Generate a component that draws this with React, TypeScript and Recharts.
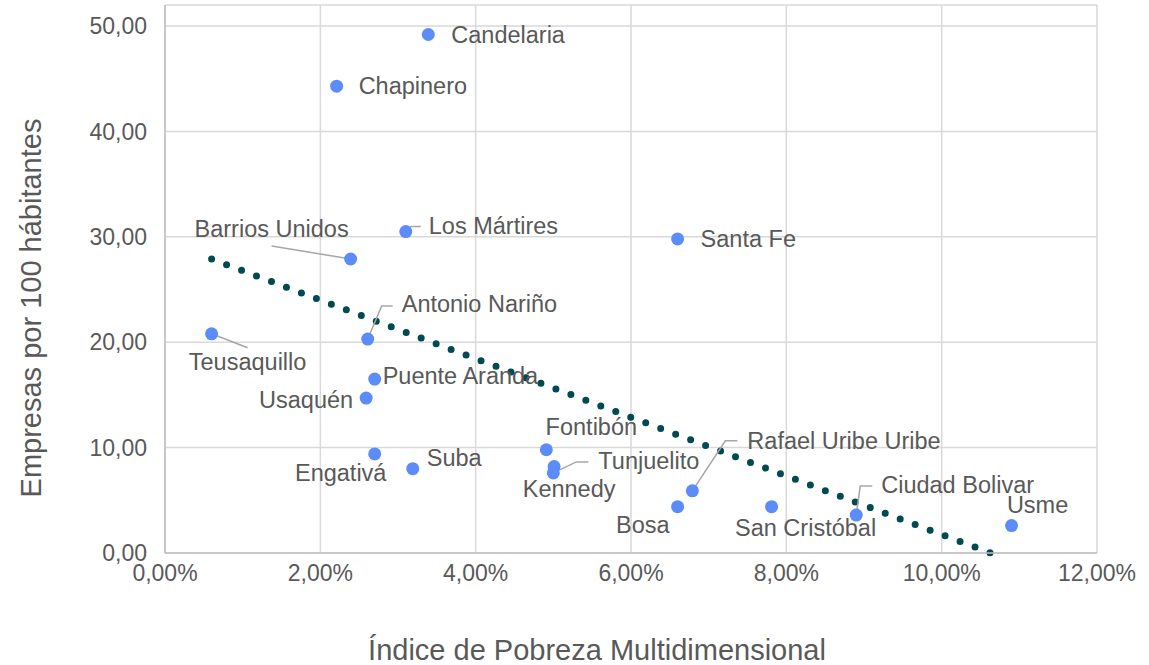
import React from "react";
import { ScatterChart, Scatter, XAxis, YAxis, CartesianGrid, ReferenceLine } from "recharts";

const localidades = [
  "Candelaria", "Chapinero", "Barrios Unidos", "Los Mártires", "Santa Fe",
  "Antonio Nariño", "Teusaquillo", "Puente Aranda", "Usaquén", "Fontibón",
  "Engativá", "Suba", "Kennedy", "Tunjuelito", "Rafael Uribe Uribe",
  "Bosa", "San Cristóbal", "Ciudad Bolivar", "Usme",
];
// Índice de Pobreza Multidimensional (%)
const ipm = [3.39, 2.21, 2.39, 3.1, 6.6, 2.61, 0.6, 2.7, 2.59, 4.91, 2.7, 3.19, 5.01, 5.0, 6.79, 6.6, 7.81, 8.9, 10.9];
// Empresas por 100 habitantes
const empresas = [49.2, 44.3, 27.9, 30.5, 29.8, 20.3, 20.8, 16.5, 14.7, 9.8, 9.4, 8.0, 8.2, 7.6, 5.9, 4.4, 4.4, 3.6, 2.6];
const trendX = [0.6, 10.63];
const trendY = [27.9, 0];
const xTicks = [0, 2, 4, 6, 8, 10, 12];
const yTicks = [0, 10, 20, 30, 40, 50];

const points = localidades.map((name, i) => ({ name, x: ipm[i], y: empresas[i] }));
const trend = trendX.map((x, i) => ({ x, y: trendY[i] }));

// where each label sits relative to its point, and the leader line if it has one
const labelLayout: Record<string, { dx: number; dy: number; anchor: string; leader?: number[][] }> = {
  "Candelaria": { dx: 23, dy: 0, anchor: "start" },
  "Chapinero": { dx: 22, dy: 0, anchor: "start" },
  "Barrios Unidos": { dx: -79, dy: -30, anchor: "middle", leader: [[0, 0], [-79, -13]] },
  "Los Mártires": { dx: 23, dy: -6, anchor: "start", leader: [[0, 0], [5, -5], [15, -5]] },
  "Santa Fe": { dx: 23, dy: 0, anchor: "start" },
  "Antonio Nariño": { dx: 34, dy: -35, anchor: "start", leader: [[0, 0], [14, -33], [25, -33]] },
  "Teusaquillo": { dx: 36, dy: 28, anchor: "middle", leader: [[0, 0], [36, 14]] },
  "Puente Aranda": { dx: 8, dy: -3, anchor: "start" },
  "Usaquén": { dx: -13, dy: 2, anchor: "end" },
  "Fontibón": { dx: 45, dy: -23, anchor: "middle" },
  "Engativá": { dx: -34, dy: 19, anchor: "middle" },
  "Suba": { dx: 14, dy: -11, anchor: "start" },
  "Kennedy": { dx: 15, dy: 22, anchor: "middle" },
  "Tunjuelito": { dx: 45, dy: -12, anchor: "start", leader: [[0, 0], [23, -11], [35, -11]] },
  "Rafael Uribe Uribe": { dx: 55, dy: -50, anchor: "start", leader: [[0, 0], [33, -50], [45, -50]] },
  "Bosa": { dx: -8, dy: 18, anchor: "end" },
  "San Cristóbal": { dx: 34, dy: 21, anchor: "middle" },
  "Ciudad Bolivar": { dx: 25, dy: -30, anchor: "start", leader: [[0, 0], [4, -29], [16, -29]] },
  "Usme": { dx: 26, dy: -21, anchor: "middle" },
};

const FONT = "'Liberation Sans', Arial, Helvetica, sans-serif";
const TEXT = "#595959";

const comma = (v: number) => v.toFixed(2).replace(".", ",");

const Leader = (props: any) => {
  const { cx, cy, payload } = props;
  const lay = labelLayout[payload.name];
  if (!lay || !lay.leader) return <g />;
  const pts = lay.leader.map((p) => `${cx + p[0]},${cy + p[1]}`).join(" ");
  return <polyline points={pts} fill="none" stroke="#a6a6a6" strokeWidth={1.5} />;
};

const Dot = (props: any) => {
  const { cx, cy } = props;
  return <circle cx={cx} cy={cy} r={6.5} fill="#5b8cfa" />;
};

const Name = (props: any) => {
  const { cx, cy, payload } = props;
  const lay = labelLayout[payload.name];
  return (
    <text
      x={cx + lay.dx}
      y={cy + lay.dy}
      textAnchor={lay.anchor}
      dominantBaseline="central"
      fontSize={23.5}
      fontFamily={FONT}
      fill={TEXT}
    >
      {payload.name}
    </text>
  );
};

export default function App() {
  return (
    <div style={{ position: "absolute", left: 0, top: 0, width: 1149, height: 665, background: "#fff" }}>
      <ScatterChart width={1149} height={665} margin={{ top: 5, right: 52, bottom: 0, left: 0 }}>
        <CartesianGrid stroke="#d9d9d9" strokeWidth={1.5} />
        <XAxis
          type="number"
          dataKey="x"
          domain={[0, 12]}
          ticks={xTicks}
          tickFormatter={(v: number) => comma(v) + "%"}
          height={112}
          tickSize={0}
          tickMargin={12}
          axisLine={{ stroke: "#bfbfbf", strokeWidth: 1.5 }}
          tick={{ fontSize: 23, fontFamily: FONT, fill: TEXT }}
        />
        <YAxis
          type="number"
          dataKey="y"
          domain={[0, 52]}
          ticks={yTicks}
          tickFormatter={(v: number) => comma(v)}
          width={165}
          tickSize={0}
          tickMargin={18}
          axisLine={{ stroke: "#bfbfbf", strokeWidth: 1.5 }}
          tick={{ fontSize: 23, fontFamily: FONT, fill: TEXT }}
        />
        <ReferenceLine
          segment={trend}
          stroke="#004a50"
          strokeWidth={7}
          strokeDasharray="0 16"
          strokeLinecap="round"
          ifOverflow="visible"
        />
        <Scatter data={points} shape={Leader} isAnimationActive={false} />
        <Scatter data={points} shape={Dot} isAnimationActive={false} />
        <Scatter data={points} shape={Name} isAnimationActive={false} />
      </ScatterChart>
      <svg width={1149} height={665} style={{ position: "absolute", left: 0, top: 0, pointerEvents: "none" }}>
        <text x={597} y={660} textAnchor="middle" fontSize={29} fontFamily={FONT} fill={TEXT}>
          Índice de Pobreza Multidimensional
        </text>
        <text
          x={41}
          y={308}
          transform="rotate(-90 41 308)"
          textAnchor="middle"
          fontSize={29}
          fontFamily={FONT}
          fill={TEXT}
        >
          Empresas por 100 hábitantes
        </text>
      </svg>
    </div>
  );
}
